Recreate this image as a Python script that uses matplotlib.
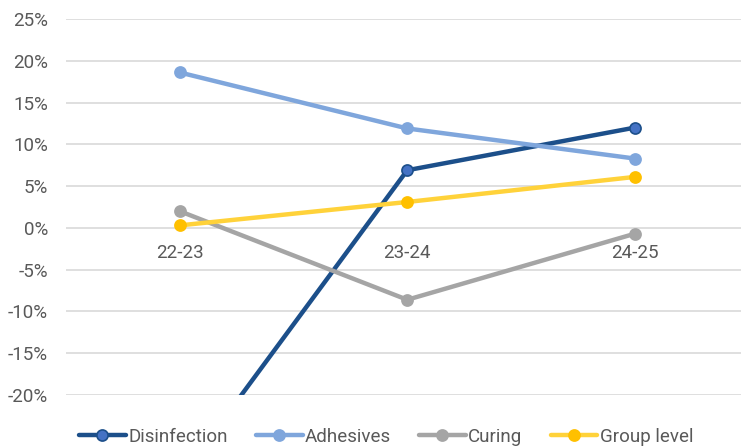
import matplotlib
matplotlib.use("Agg")
import matplotlib.pyplot as plt
from matplotlib.ticker import FuncFormatter

periods = ["22-23", "23-24", "24-25"]
disinfection = [-30.0, 6.9, 12.0]
adhesives = [18.6, 11.9, 8.3]
curing = [2.0, -8.6, -0.7]
group_level = [0.3, 3.1, 6.1]
y_ticks = [-20, -15, -10, -5, 0, 5, 10, 15, 20, 25]

plt.rcParams["font.family"] = ["Roboto", "DejaVu Sans"]
text_color = "#595959"

fig = plt.figure(figsize=(7.41, 4.47), dpi=100)
ax = fig.add_axes([66 / 741, 1 - 395 / 447, (748.5 - 66) / 741, (395 - 19) / 447])

x = list(range(len(periods)))
series = [
    ("Disinfection", disinfection, "#1C4F8A", "#4472C4", "#1C4F8A"),
    ("Adhesives", adhesives, "#7FA6DC", "#7FA6DC", "#7FA6DC"),
    ("Curing", curing, "#A5A5A5", "#A5A5A5", "#A5A5A5"),
    ("Group level", group_level, "#FFD23A", "#FFC000", "#FFC000"),
]
for name, vals, lc, fc, ec in series:
    ax.plot(x, vals, color=lc, lw=3.2, marker="o", markersize=8,
            markerfacecolor=fc, markeredgecolor=ec, markeredgewidth=1.2,
            label=name, solid_capstyle="round", zorder=3)

ax.set_xlim(-0.5, 2.5)
ax.set_ylim(-20, 25)
ax.set_yticks(y_ticks)
ax.yaxis.set_major_formatter(FuncFormatter(lambda v, p: f"{v:.0f}%"))
ax.tick_params(axis="y", length=0, pad=13, labelsize=13.5, labelcolor=text_color)
ax.set_xticks([])
ax.grid(axis="y", color="#D9D9D9", lw=1.2, zorder=0)
ax.set_axisbelow(True)
for s in ax.spines.values():
    s.set_visible(False)

# category labels sit under the zero line
for xi, lab in zip(x, periods):
    ax.annotate(lab, (xi, 0), xytext=(0, -18), textcoords="offset points",
                ha="center", va="center", fontsize=13.5, color=text_color)

leg = fig.legend(loc="center", bbox_to_anchor=(386 / 741, 1 - 437 / 447), ncol=4,
                 frameon=False, fontsize=13.5, handlelength=2.5,
                 handletextpad=0.12, columnspacing=1.5)
for t in leg.get_texts():
    t.set_color(text_color)

fig.savefig("out.png", dpi=100)
